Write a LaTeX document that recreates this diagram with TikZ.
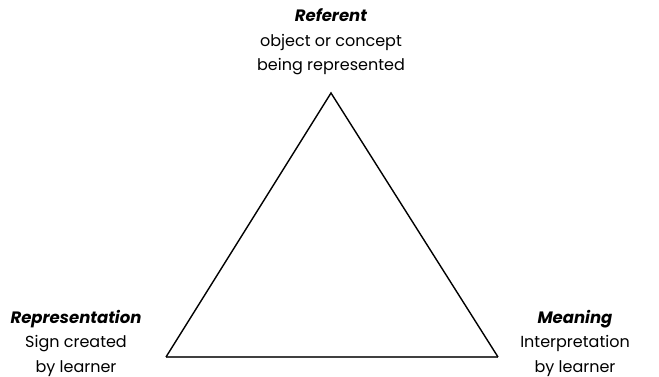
\documentclass[tikz,border=0pt]{standalone}
\usepackage{fontspec}
\setmainfont{Poppins}
\usepackage{tikz}

\newcommand{\heading}[1]{{\fontsize{16.5}{24}\selectfont\bfseries\itshape #1}}

\begin{document}
\begin{tikzpicture}[
    x=1pt, y=-1pt,
    label/.style={align=center, font=\fontsize{16}{24.5}\selectfont, inner sep=0pt},
    side/.style={line width=1.4pt, line join=miter},
    base/.style={line width=2.4pt, black!75}
]
    \useasboundingbox (0,0) rectangle (659,377);

    \coordinate (top) at (331,93);
    \coordinate (left) at (166,357);
    \coordinate (right) at (498,357);

    \node[label] (referent) at (331,42) {\heading{Referent}\\object or concept\\being represented};
    \node[label] (repr) at (76,343) {\heading{Representation}\\Sign created\\by learner};
    \node[label] (meaning) at (575,343) {\heading{Meaning}\\Interpretation\\by learner};

    \draw[base] (left) -- (right);
    \draw[side] (right) -- (top) -- (left);
\end{tikzpicture}
\end{document}
